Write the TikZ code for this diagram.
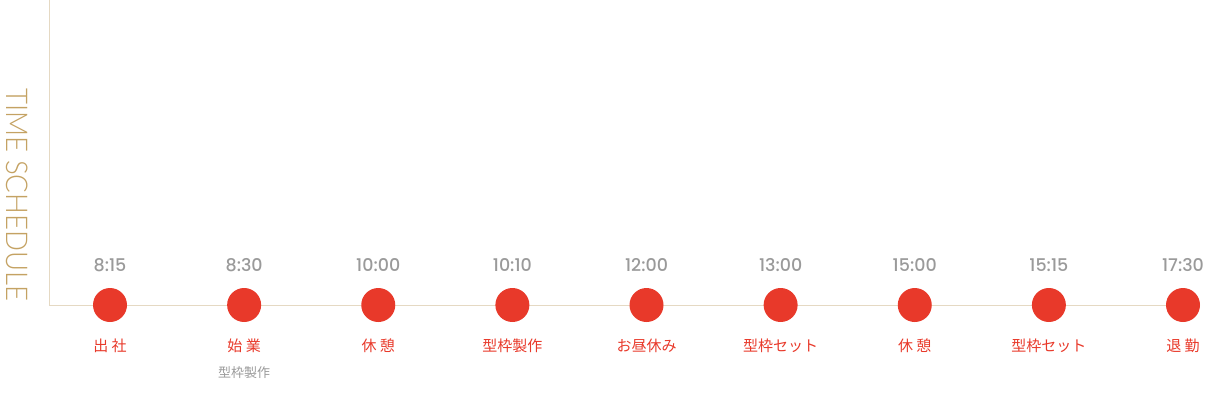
\documentclass[tikz,border=0pt]{standalone}
\usepackage{fontspec}
\newfontfamily\jpfont{Noto Sans CJK JP}
\IfFontExistsTF{Poppins Medium}{\newfontfamily\timefont{Poppins Medium}}{\newfontfamily\timefont{Poppins}}
\IfFontExistsTF{Lato Light}{\newfontfamily\titlefont{Lato Light}}{\newfontfamily\titlefont{Lato}}
\usetikzlibrary{positioning,backgrounds}
\definecolor{dotred}{HTML}{E8392A}
\definecolor{timegray}{HTML}{9A9A9A}
\definecolor{linebeige}{HTML}{E5D9C3}
\definecolor{titletan}{HTML}{C4A263}

\begin{document}
\begin{tikzpicture}[
      x=1pt, y=-1pt,
      dot/.style={
         circle,
         fill=dotred,
         inner sep=0pt,
         minimum size=34pt},
      timelabel/.style={
         inner sep=0pt,
         text depth=0pt,
         text=timegray,
         font=\timefont\fontsize{17.5}{17.5}\selectfont},
      tasklabel/.style={
         inner sep=0pt,
         text height=0.88em,
         text depth=0.12em,
         text=dotred,
         font=\jpfont\fontsize{15}{15}\selectfont},
      sublabel/.style={
         inner sep=0pt,
         text height=0.88em,
         text depth=0.12em,
         text=timegray,
         font=\jpfont\fontsize{13}{13}\selectfont},
      axisline/.style={draw=linebeige, line width=1pt}
      ]
      \useasboundingbox (0,0) rectangle (1210,400);

      \node[rotate=-90, xscale=0.92, inner sep=0pt, text depth=0pt, text=titletan,
            font=\titlefont\fontsize{30}{30}\selectfont] (title) at (17,195) {TIME SCHEDULE};

    \foreach \i/\t/\txt in {% number/time/task
      1/8:15/出 社,
      2/8:30/始 業,
      3/10:00/休 憩,
      4/10:10/型枠製作,
      5/12:00/お昼休み,
      6/13:00/型枠セット,
      7/15:00/休 憩,
      8/15:15/型枠セット,
      9/17:30/退 勤}
    {
       \node[dot] (d\i) at ({110+134.125*(\i-1)},305) {};
       \node[timelabel, above=16pt of d\i] (t\i) {\t};
       \node[tasklabel, below=20pt of d\i] (l\i) {\txt};
    }
      \node[sublabel, below=16pt of l2] (s2) {型枠製作};

    % axis lines behind the dots
    \coordinate (top) at (49,0);
    \coordinate (corner) at (49,305);
    \begin{scope}[on background layer]
      \draw[axisline] (top) -- (corner) -- (d9);
    \end{scope}
\end{tikzpicture}
\end{document}
